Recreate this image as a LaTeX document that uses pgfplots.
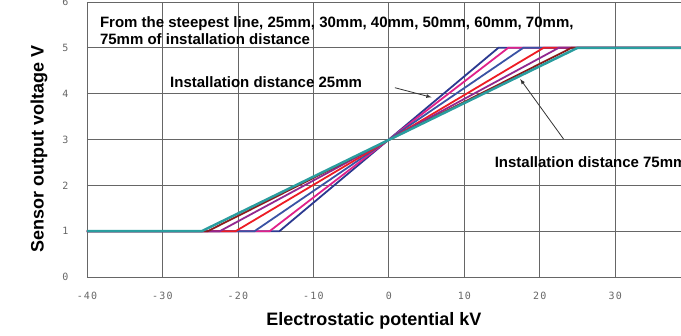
\documentclass[border=0pt]{standalone}
\usepackage{pgfplots}
\pgfplotsset{compat=1.18}
\usepackage{fontspec}
\setmainfont{Liberation Sans}
\newfontfamily\monofont[LetterSpace=12]{DejaVu Sans Mono}
\definecolor{c1}{HTML}{2B3990}
\definecolor{c2}{HTML}{E0218A}
\definecolor{c3}{HTML}{3A53A4}
\definecolor{c4}{HTML}{ED1C24}
\definecolor{c5}{HTML}{92278F}
\definecolor{c6}{HTML}{8B1A1A}
\definecolor{c7}{HTML}{2A9D9F}
\begin{document}
\begin{tikzpicture}
\useasboundingbox (-87pt,-59pt) rectangle (594pt,277pt);
\clip (-87pt,-59pt) rectangle (594pt,277pt);
\begin{axis}[
  scale only axis, width=594pt, height=275pt,
  xmin=-40, xmax=38.7, ymin=0, ymax=6,
  xtick={-40,-30,...,30}, ytick={0,1,...,6},
  major tick length=0pt,
  grid=major,
  grid style={color=black!60, line width=0.9pt},
  axis line style={color=black!60, line width=0.9pt},
  /pgf/number format/assume math mode=true,
  tick label style={font=\monofont\fontsize{10}{11}\selectfont, text=black!60},
  yticklabel style={xshift=-15pt},
  xticklabel style={yshift=-12pt},
  xlabel={\bfseries Electrostatic potential kV},
  ylabel={\bfseries Sensor output voltage V},
  every axis x label/.style={at={(axis description cs:0.483,0)}, anchor=center, yshift=-44pt, font=\fontsize{18}{20}\selectfont},
  every axis y label/.style={at={(axis description cs:0,0.467)}, xshift=-48pt, rotate=90, anchor=center, font=\fontsize{18}{20}\selectfont},
  clip=true,
]
\addplot[c1, line width=1.8pt] coordinates {(-40,1) (-14.5,1) (14.5,5) (40,5)};
\addplot[c2, line width=1.8pt] coordinates {(-40,1) (-15.8,1) (15.8,5) (40,5)};
\addplot[c3, line width=1.8pt] coordinates {(-40,1) (-17.8,1) (17.8,5) (40,5)};
\addplot[c4, line width=1.8pt] coordinates {(-40,1) (-20.3,1) (20.5,5) (40,5)};
\addplot[c5, line width=1.8pt] coordinates {(-40,1) (-22.4,1) (22.5,5) (40,5)};
\addplot[c6, line width=1.8pt] coordinates {(-40,1) (-24.0,1) (24.2,5) (40,5)};
\addplot[c7, line width=2.5pt] coordinates {(-40,1) (-24.8,1) (25.0,5) (40,5)};
\node[anchor=west, align=left, font=\bfseries\fontsize{15}{17.5}\selectfont, inner sep=0pt] at (axis cs:-38.3,5.38) {From the steepest line, 25mm, 30mm, 40mm, 50mm, 60mm, 70mm,\\75mm of installation distance};
\node[anchor=west, font=\bfseries\fontsize{15}{17}\selectfont, inner sep=0pt] at (axis cs:-29,4.25) {Installation distance 25mm};
\node[anchor=west, font=\bfseries\fontsize{15}{17}\selectfont, inner sep=0pt] at (axis cs:14.0,2.50) {Installation distance 75mm};
\draw[-latex, black!80, line width=0.8pt] (axis cs:0.79,4.13) -- (axis cs:5.65,3.92);
\draw[-latex, black!80, line width=0.8pt] (axis cs:23.14,3.01) -- (axis cs:17.39,4.32);
\end{axis}
\end{tikzpicture}
\end{document}
